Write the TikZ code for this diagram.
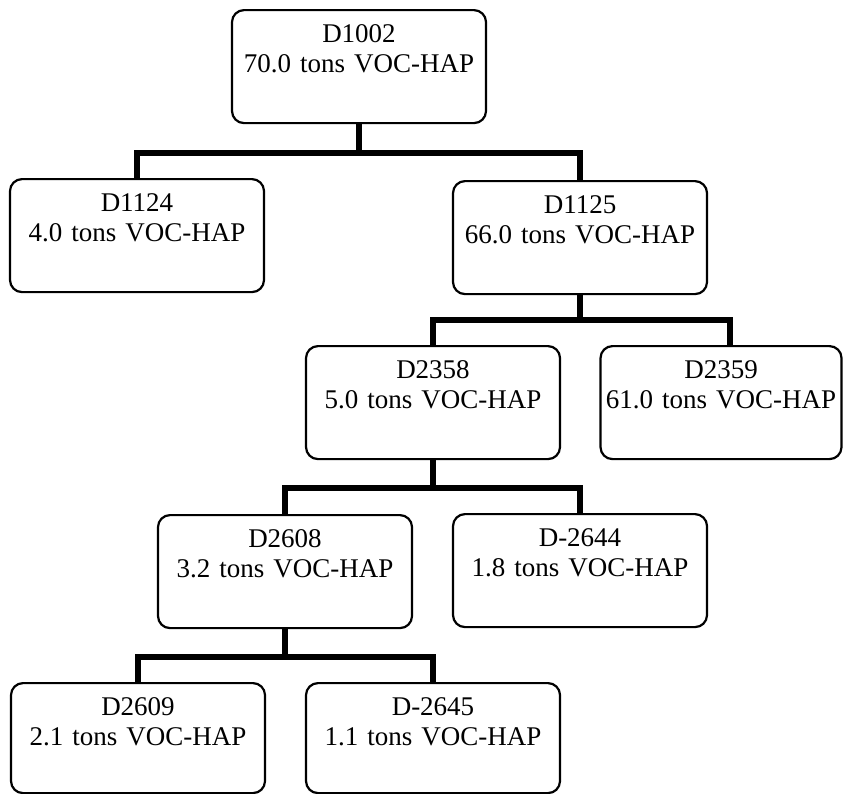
\documentclass[tikz,border=0pt]{standalone}
\usepackage{fontspec}
\setmainfont{Liberation Serif}
\usetikzlibrary{calc}

\begin{document}
\begin{tikzpicture}[x=1pt,y=-1pt,
    tank/.style={draw,line width=2.2pt,rounded corners=12pt,inner sep=0pt,
      text width=254pt,align=center,text height=32pt,text depth=81pt,
      font=\fontsize{27}{30}\selectfont,anchor=north},
    bar/.style={line width=6.5pt}]
    \useasboundingbox (0,0) rectangle (843,793);

    \foreach \x/\y/\name/\id/\amt in {359/9/d1002/D1002/70.0,
      137/178/d1124/D1124/4.0, 580/180/d1125/D1125/66.0,
      433/345/d2358/D2358/5.0,
      285/514/d2608/D2608/3.2, 580/513/d2644/D-2644/1.8} {
     \node[tank] (\name) at (\x,\y) {\id\\\amt\ tons VOC-HAP};
    }
    \node[tank,text width=241pt] (d2359) at (721,345) {D2359\\61.0 tons VOC-HAP};
    \node[tank,text depth=78pt] (d2609) at (138,682) {D2609\\2.1 tons VOC-HAP};
    \node[tank,text depth=78pt] (d2645) at (433,682) {D-2645\\1.1 tons VOC-HAP};

    \coordinate (j1) at (359,153);
    \coordinate (j2) at (580,320);
    \coordinate (j3) at (433,488);
    \coordinate (j4) at (285,657);

    \draw[bar] (d1002.south) -- (j1);
    \draw[bar] (d1124.north) |- (j1) -| (d1125.north);
    \draw[bar] (d1125.south) -- (j2);
    \draw[bar] (d2358.north) |- (j2) -| ([xshift=9pt]d2359.north);
    \draw[bar] (d2358.south) -- (j3);
    \draw[bar] (d2608.north) |- (j3) -| (d2644.north);
    \draw[bar] (d2608.south) -- (j4);
    \draw[bar] (d2609.north) |- (j4) -| (d2645.north);
\end{tikzpicture}
\end{document}
